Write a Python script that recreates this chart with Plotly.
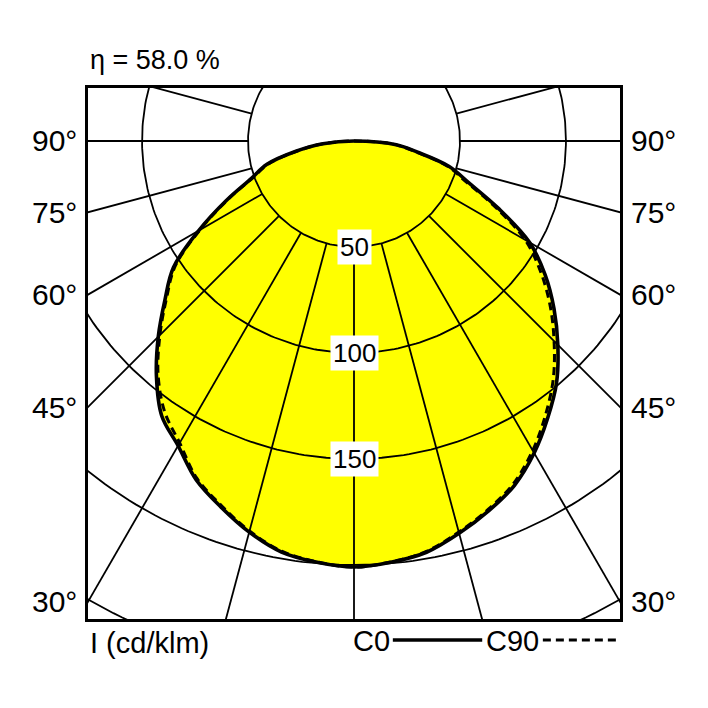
import numpy as np
import plotly.graph_objects as go

# ---- data (cd/klm) ----
GAMMA = [0, 5, 10, 15, 20, 25, 30, 35, 40, 45, 50, 55, 60, 65, 70, 75, 80, 85, 90]
I_C0 = [201, 199.5, 197, 191.6, 185.7, 179.2, 170, 159.4, 148.7, 136, 123.2, 110.1, 95.6, 75.2, 57.7, 46.5, 30.5, 20, 0]
I_C180 = [201, 199.5, 196.9, 191, 183.7, 176.3, 166, 158.2, 145, 130.6, 116.4, 104, 84.7, 66.6, 51.5, 42.5, 27.8, 14.7, 0]
I_C90 = [201, 199.3, 196.6, 191, 185, 178.2, 168.6, 157.6, 146.3, 133.5, 120.8, 107.5, 93.2, 73.4, 56.3, 45.5, 30, 19.6, 0]
I_C270 = [201, 199.3, 196.5, 190.5, 183, 175.5, 164.5, 155.8, 143.8, 129.5, 115.5, 103, 84, 66, 50.8, 41.8, 27.2, 14.3, 0]

RINGS = [50, 100, 150, 200, 250]
RING_LABELS = ["50", "100", "150"]
RADIAL_STEP = 15
SIDE_ANGLES = [90, 75, 60, 45, 30]
ETA = "η = 58.0 %"
UNIT = "I (cd/klm)"

FONT = "Liberation Sans, Arial, sans-serif"
XR = 125.5
YTOP, YBOT = 25.0, -225.5


def outline(right, left):
    g = np.radians(GAMMA)
    r_right = np.array(right)
    r_left = np.array(left)
    xl = -r_left * np.sin(g)
    yl = -r_left * np.cos(g)
    xr = r_right * np.sin(g)
    yr = -r_right * np.cos(g)
    x = np.concatenate([xl[::-1], xr[1:]])
    y = np.concatenate([yl[::-1], yr[1:]])
    return x, y


fig = go.Figure()

x0, y0 = outline(I_C0, I_C180)
x9, y9 = outline(I_C90, I_C270)

# yellow fills
for xx, yy in [(x0, y0), (x9, y9)]:
    fig.add_trace(go.Scatter(x=xx, y=yy, mode="lines", line=dict(width=0, shape="spline", color="#FFFF00"),
                             fill="toself", fillcolor="#FFFF00", hoverinfo="skip", showlegend=False))

# grid circles
gx, gy = [], []
t = np.radians(np.arange(0, 361, 1))
for r in RINGS:
    gx += list(r * np.sin(t)) + [None]
    gy += list(-r * np.cos(t)) + [None]
# radial lines from first ring outward
for a in range(0, 181, RADIAL_STEP):
    for s in ([1] if a in (0, 180) else [1, -1]):
        ar = np.radians(a)
        gx += [s * RINGS[0] * np.sin(ar), s * 600 * np.sin(ar), None]
        gy += [-RINGS[0] * np.cos(ar), -600 * np.cos(ar), None]
fig.add_trace(go.Scatter(x=gx, y=gy, mode="lines", line=dict(color="black", width=1.8),
                         hoverinfo="skip", showlegend=False))

# curves
fig.add_trace(go.Scatter(x=x9, y=y9, mode="lines",
                         line=dict(color="black", width=3, dash="8px,5px", shape="spline"),
                         hoverinfo="skip", showlegend=False))
fig.add_trace(go.Scatter(x=x0, y=y0, mode="lines",
                         line=dict(color="black", width=3.6, shape="spline"),
                         hoverinfo="skip", showlegend=False))

ann = []
for r, lab in zip(RINGS, RING_LABELS):
    ann.append(dict(x=0, y=-r, xref="x", yref="y", text=lab, showarrow=False,
                    font=dict(family=FONT, size=26, color="black"), bgcolor="white", borderpad=2))
for a in SIDE_ANGLES:
    yv = 0.0 if a == 90 else -XR / np.tan(np.radians(a))
    ann.append(dict(x=-0.016, y=yv, xref="paper", yref="y", text=f"{a}°", showarrow=False,
                    xanchor="right", yanchor="middle", font=dict(family=FONT, size=30, color="black")))
    ann.append(dict(x=1.016, y=yv, xref="paper", yref="y", text=f"{a}°", showarrow=False,
                    xanchor="left", yanchor="middle", font=dict(family=FONT, size=30, color="black")))

ann.append(dict(x=0, y=1.052, xref="paper", yref="paper", text=ETA, showarrow=False,
                xanchor="left", yanchor="middle", font=dict(family=FONT, size=27, color="black")))
ann.append(dict(x=0, y=-0.045, xref="paper", yref="paper", text=UNIT, showarrow=False,
                xanchor="left", yanchor="middle", font=dict(family=FONT, size=29, color="black")))
ann.append(dict(x=0.532, y=-0.041, xref="paper", yref="paper", text="C0", showarrow=False,
                xanchor="center", yanchor="middle", font=dict(family=FONT, size=29, color="black")))
ann.append(dict(x=0.797, y=-0.041, xref="paper", yref="paper", text="C90", showarrow=False,
                xanchor="center", yanchor="middle", font=dict(family=FONT, size=29, color="black")))

shapes = [
    dict(type="line", xref="paper", yref="paper", x0=0.573, x1=0.741, y0=-0.0395, y1=-0.0395,
         line=dict(color="black", width=3.6)),
    dict(type="line", xref="paper", yref="paper", x0=0.855, x1=0.996, y0=-0.0395, y1=-0.0395,
         line=dict(color="black", width=3, dash="8px,5px")),
]

# page body has an 8px default margin, so the figure is 700px and shifted margins
fig.update_layout(
    width=700, height=700,
    margin=dict(l=80, r=88, t=80, b=89),
    plot_bgcolor="white", paper_bgcolor="white",
    showlegend=False,
    annotations=ann, shapes=shapes,
    xaxis=dict(range=[-XR, XR], showgrid=False, zeroline=False, showticklabels=False, ticks="",
               showline=True, mirror=True, linecolor="black", linewidth=2.5, fixedrange=True),
    yaxis=dict(range=[YBOT, YTOP], showgrid=False, zeroline=False, showticklabels=False, ticks="",
               showline=True, mirror=True, linecolor="black", linewidth=2.5, fixedrange=True),
)

fig.write_html("out.html")
